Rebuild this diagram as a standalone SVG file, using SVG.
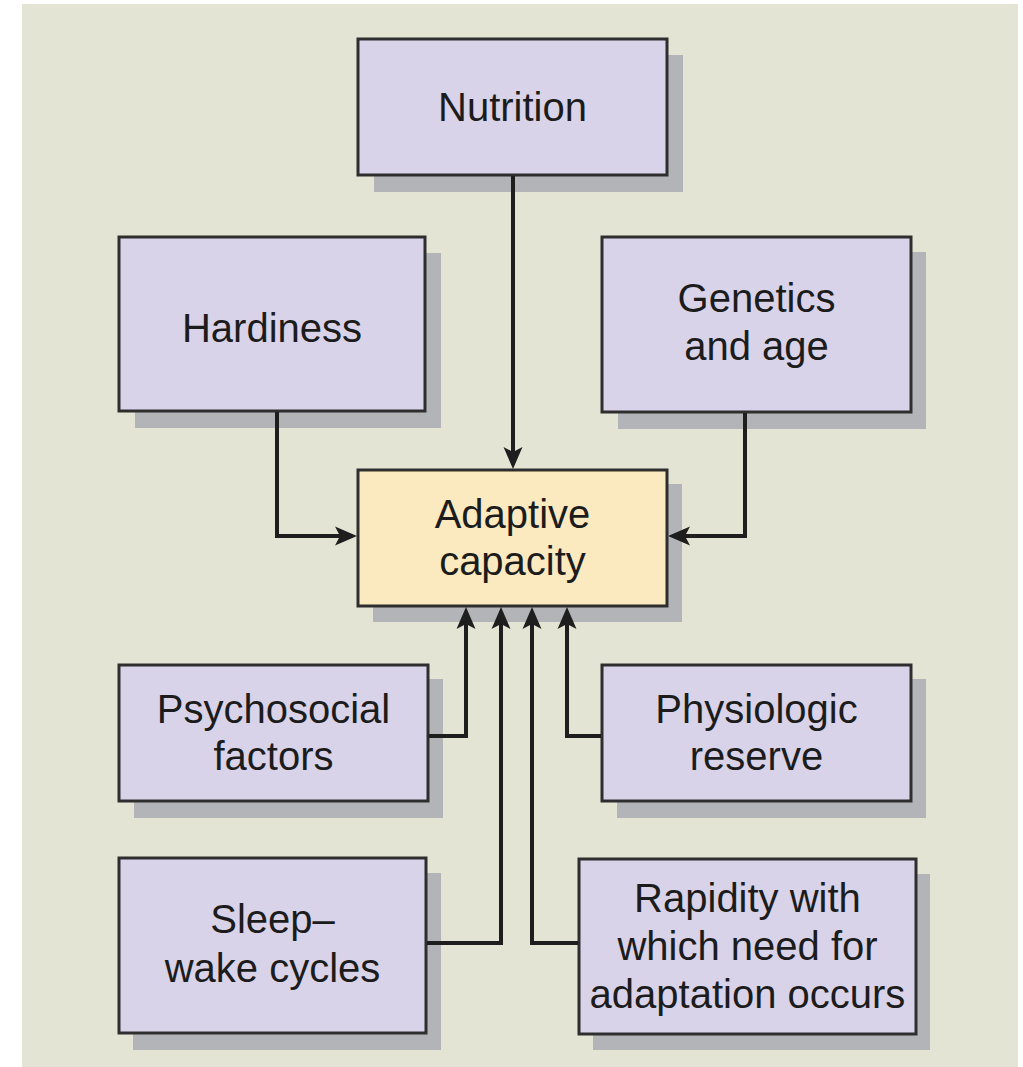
<svg xmlns="http://www.w3.org/2000/svg" width="1023" height="1067" viewBox="0 0 1023 1067">
<style>
.shadow{fill:#b3b4b7}
.box{fill:#d9d3e9;stroke:#2e2e2e;stroke-width:3}
.core{fill:#fbeabf;stroke:#2e2e2e;stroke-width:3}
.lbl{font-family:"Liberation Sans",Arial,sans-serif;font-size:40px;fill:#1c1c1c;text-anchor:middle}
.conn{fill:none;stroke:#1e1e1e;stroke-width:4}
.head{fill:#1e1e1e}
</style>
<defs>
<path id="up" class="head" d="M0,0 L-9.5,22 L0,17 L9.5,22 Z"/>
</defs>
<rect x="22" y="4" width="996" height="1063" fill="#e4e4d4"/>
<g id="nutrition">
<rect class="shadow" x="374" y="55" width="309" height="137"/>
<rect class="box" x="358" y="39" width="309" height="136"/>
<text class="lbl" x="512.5" y="121">Nutrition</text>
</g>
<g id="hardiness">
<rect class="shadow" x="135" y="253" width="306" height="175"/>
<rect class="box" x="119" y="237" width="306" height="174"/>
<text class="lbl" x="272" y="342">Hardiness</text>
</g>
<g id="genetics">
<rect class="shadow" x="618" y="252" width="308" height="177"/>
<rect class="box" x="602" y="237" width="309" height="175"/>
<text class="lbl" x="756.5" y="312">Genetics</text>
<text class="lbl" x="756.5" y="360">and age</text>
</g>
<g id="adaptive">
<rect class="shadow" x="373" y="484" width="309" height="138"/>
<rect class="core" x="358" y="470" width="309" height="136"/>
<text class="lbl" x="512.5" y="528">Adaptive</text>
<text class="lbl" x="512.5" y="575">capacity</text>
</g>
<g id="psychosocial">
<rect class="shadow" x="134" y="679" width="309" height="139"/>
<rect class="box" x="119" y="665" width="309" height="136"/>
<text class="lbl" x="273.5" y="723">Psychosocial</text>
<text class="lbl" x="273.5" y="770">factors</text>
</g>
<g id="physiologic">
<rect class="shadow" x="617" y="679" width="309" height="139"/>
<rect class="box" x="602" y="665" width="309" height="136"/>
<text class="lbl" x="756.5" y="723">Physiologic</text>
<text class="lbl" x="756.5" y="770">reserve</text>
</g>
<g id="sleep">
<rect class="shadow" x="133" y="873" width="308" height="177"/>
<rect class="box" x="119" y="858" width="307" height="175"/>
<text class="lbl" x="272.5" y="933">Sleep–</text>
<text class="lbl" x="272.5" y="982">wake cycles</text>
</g>
<g id="rapidity">
<rect class="shadow" x="593" y="874" width="337" height="176"/>
<rect class="box" x="579" y="859" width="337" height="175"/>
<text class="lbl" x="747.5" y="912">Rapidity with</text>
<text class="lbl" x="747.5" y="960">which need for</text>
<text class="lbl" x="747.5" y="1008">adaptation occurs</text>
</g>
<g id="connectors">
<path class="conn" d="M513,176 V455"/>
<path class="conn" d="M277,412 V536 H345"/>
<path class="conn" d="M745,413 V536 H680"/>
<path class="conn" d="M429,736 H466 V620"/>
<path class="conn" d="M427,943 H501 V620"/>
<path class="conn" d="M578,943 H532 V620"/>
<path class="conn" d="M601,736 H567 V620"/>
<use href="#up" transform="translate(513,469) rotate(180)"/>
<use href="#up" transform="translate(357,536) rotate(90)"/>
<use href="#up" transform="translate(668,536) rotate(-90)"/>
<use href="#up" transform="translate(466,607)"/>
<use href="#up" transform="translate(501,607)"/>
<use href="#up" transform="translate(532,607)"/>
<use href="#up" transform="translate(567,607)"/>
</g>
</svg>
